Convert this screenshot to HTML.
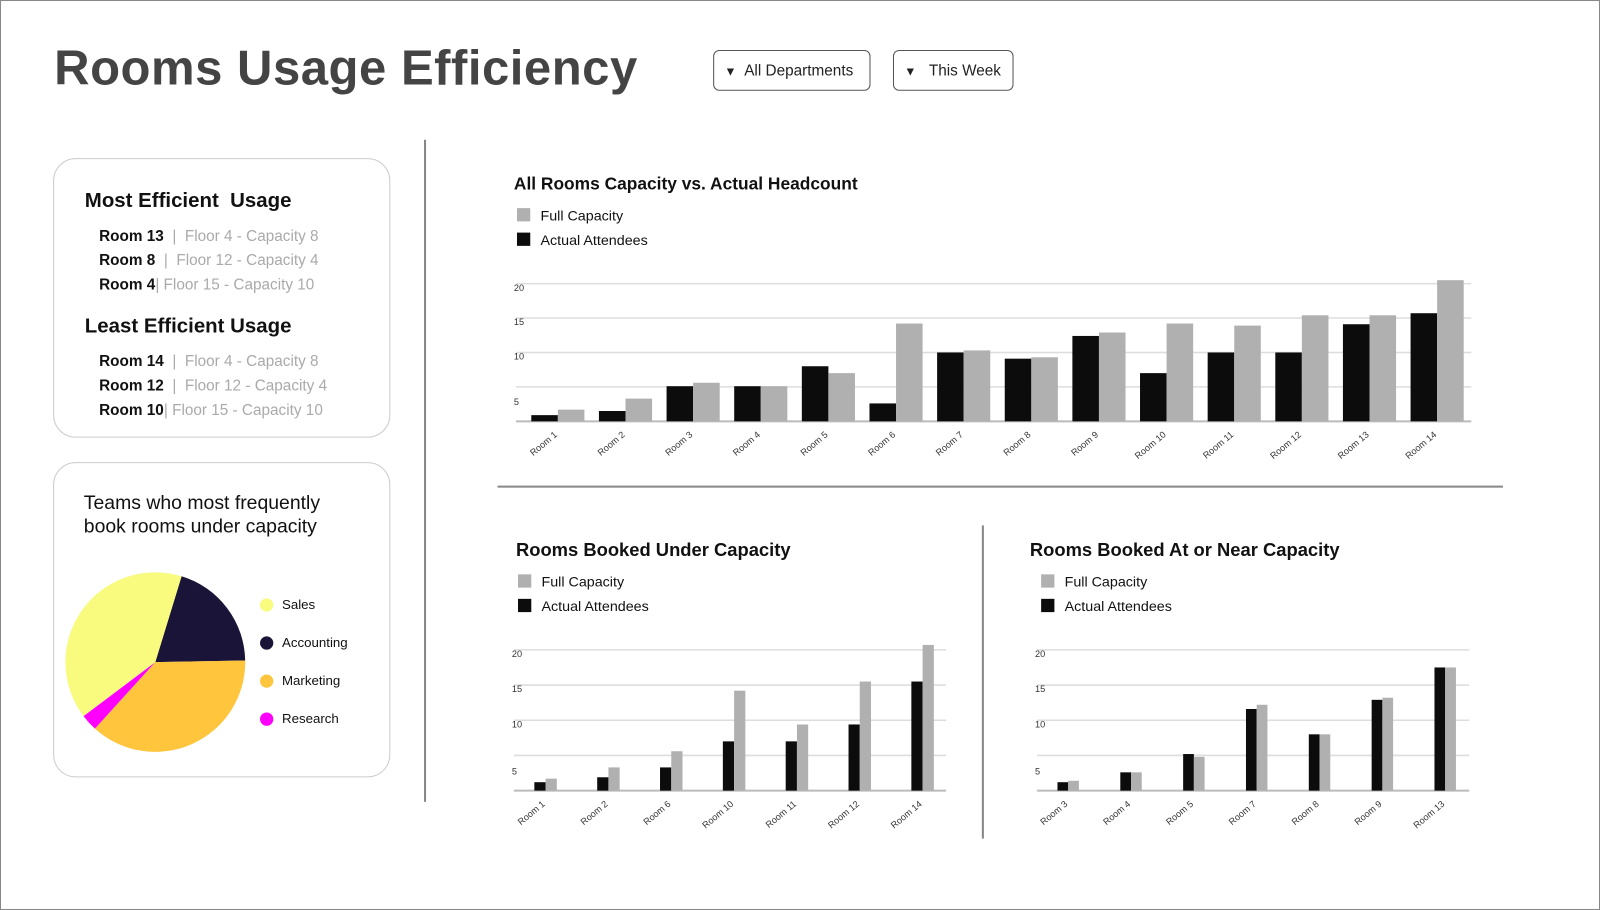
<!DOCTYPE html>
<html><head><meta charset="utf-8">
<style>
html,body{margin:0;padding:0;background:#fff;overflow:hidden;}
body{width:1600px;height:910px;}
#root{position:absolute;left:0;top:0;width:1566px;height:892px;transform-origin:0 0;transform:scale(1.02171,1.02018);font-family:"Liberation Sans",sans-serif;}
.frame{position:absolute;left:0;top:0;width:1564px;height:890px;border:1px solid #888;}
.abs{position:absolute;}
.title{left:53px;top:40px;font-size:48px;font-weight:bold;color:#444;letter-spacing:0.5px;}
.dd{height:40px;border:1.5px solid #555;border-radius:6px;font-size:15px;color:#222;line-height:40px;box-sizing:border-box;}
.card{border:1.5px solid #ccc;border-radius:22px;box-sizing:border-box;}
.h{font-size:20px;color:#111;font-weight:bold;}
.row{font-size:15px;color:#aaa;}
.row b{color:#111;}
</style></head><body>
<div id="root">
<div class="frame"></div>
<div class="abs title">Rooms Usage Efficiency</div>
<div class="abs dd" style="left:698px;top:49px;width:154px;"><span style="margin-left:10px;font-size:12px;">&#9660;</span>&nbsp; All Departments</div>
<div class="abs dd" style="left:874px;top:49px;width:118px;"><span style="margin-left:10px;font-size:12px;">&#9660;</span>&nbsp;&nbsp; This Week</div>

<div class="abs" style="left:415px;top:137px;width:1.5px;height:649px;background:#888;"></div>
<div class="abs" style="left:487px;top:476px;width:984px;height:1.5px;background:#888;"></div>
<div class="abs" style="left:961px;top:515px;width:1.5px;height:307px;background:#888;"></div>

<div class="abs card" style="left:52px;top:155px;width:330px;height:274px;">
  <div class="abs h" style="left:30px;top:30px;">Most Efficient&nbsp; Usage</div>
  <div class="abs row" style="left:44px;top:67px;"><b>Room 13</b> &nbsp;|&nbsp; Floor 4 - Capacity 8</div>
  <div class="abs row" style="left:44px;top:91px;"><b>Room 8</b> &nbsp;|&nbsp; Floor 12 - Capacity 4</div>
  <div class="abs row" style="left:44px;top:115px;"><b>Room 4</b>| Floor 15 - Capacity 10</div>
  <div class="abs h" style="left:30px;top:153px;">Least Efficient Usage</div>
  <div class="abs row" style="left:44px;top:190px;"><b>Room 14</b> &nbsp;|&nbsp; Floor 4 - Capacity 8</div>
  <div class="abs row" style="left:44px;top:214px;"><b>Room 12</b> &nbsp;|&nbsp; Floor 12 - Capacity 4</div>
  <div class="abs row" style="left:44px;top:238px;"><b>Room 10</b>| Floor 15 - Capacity 10</div>
</div>

<div class="abs card" style="left:52px;top:453px;width:330px;height:309px;">
  <div class="abs" style="left:29px;top:28px;font-size:19px;color:#111;line-height:23px;">Teams who most frequently<br>book rooms under capacity</div>
</div>

<svg class="abs" style="left:0;top:0" width="1566" height="892" id="svg"></svg>
</div>
<script>
// Main chart
const mainRooms = ["Room 1","Room 2","Room 3","Room 4","Room 5","Room 6","Room 7","Room 8","Room 9","Room 10","Room 11","Room 12","Room 13","Room 14"];
const mainActual = [0.9,1.5,5.1,5.1,8.0,2.6,10.0,9.1,12.4,7.0,10.0,10.0,14.1,15.7];
const mainCapacity = [1.7,3.3,5.6,5.1,7.0,14.2,10.3,9.3,12.9,14.2,13.9,15.4,15.4,20.5];
// Under capacity chart
const underRooms = ["Room 1","Room 2","Room 6","Room 10","Room 11","Room 12","Room 14"];
const underActual = [1.2,1.9,3.3,7.0,7.0,9.4,15.5];
const underCapacity = [1.7,3.3,5.6,14.2,9.4,15.5,20.7];
// Near capacity chart
const nearRooms = ["Room 3","Room 4","Room 5","Room 7","Room 8","Room 9","Room 13"];
const nearActual = [1.2,2.6,5.2,11.6,8.0,12.9,17.5];
const nearCapacity = [1.4,2.6,4.8,12.2,8.0,13.2,17.5];
const tickValues = [0,5,10,15,20];
const tickLabels = ["","5","10","15","20"];
// Pie
const pieLabels = ["Accounting","Marketing","Research","Sales"];
const pieValues = [20,37,3,40];
const pieLegend = ["Sales","Accounting","Marketing","Research"];

const NS="http://www.w3.org/2000/svg";
const svg=document.getElementById('svg');
function mk(tag,attrs,parent){const e=document.createElementNS(NS,tag);for(const k in attrs)e.setAttribute(k,attrs[k]);(parent||svg).appendChild(e);return e;}

function chart(cfg){
  const g=mk('g',{});
  
  
  const t=mk('text',{x:cfg.tx,y:cfg.ty,'font-size':cfg.tfs,'font-weight':'bold','fill':'#111','font-family':'Liberation Sans, sans-serif'},g);
  t.textContent=cfg.title;
  
  
  [["Full Capacity","#b0b0b0",0],["Actual Attendees","#0c0c0c",1]].forEach(([lab,col,i])=>{
    const r=mk('rect',{x:cfg.lx,y:cfg.ty+18+i*24,width:13,height:13,fill:col},g);
    
    
    const lt=mk('text',{x:cfg.lx+23,y:cfg.ty+30+i*24,'font-size':14,fill:'#111','font-family':'Liberation Sans, sans-serif'},g);
    lt.textContent=lab;
    
    
  });
  const y=v=>cfg.base-(v/20)*(cfg.base-cfg.top);
  tickValues.forEach((v,i)=>{
    const gl=mk('line',{x1:cfg.x0,x2:cfg.x1,y1:y(v),y2:y(v),stroke:i===0?'#bbb':'#ddd','stroke-width':i===0?2:1.5},g);
    
    
    if(tickLabels[i]){
      const tl=mk('text',{x:cfg.x0-2,y:(v===5?cfg.base-16:y(v)+7),'font-size':9,fill:'#333','font-family':'Liberation Sans, sans-serif'},g);
      tl.textContent=tickLabels[i];
      
      
    }
  });
  cfg.cats.forEach((c,i)=>{
    const gx=cfg.first+i*cfg.step;
    const b=mk('rect',{x:gx,y:y(cfg.actual[i]),width:cfg.bw,height:cfg.base-y(cfg.actual[i]),fill:'#0c0c0c'},g);
    
    
    const b2=mk('rect',{x:gx+cfg.bw,y:y(cfg.cap[i]),width:cfg.bw,height:cfg.base-y(cfg.cap[i]),fill:'#b0b0b0'},g);
    
    
    const cx=gx+cfg.bw, cy=cfg.base+14;
    const xl=mk('text',{x:cx,y:cy,'font-size':9,fill:'#333','text-anchor':'end','font-family':'Liberation Sans, sans-serif',transform:`rotate(-40 ${cx} ${cy})`},g);
    xl.textContent=c;
    
    
  });
}
chart({name:'all-rooms-chart',title:'All Rooms Capacity vs. Actual Headcount',tx:503,ty:186,tfs:17,lx:506,x0:505,x1:1440,base:413,top:278,first:520,step:66.2,bw:26,cats:mainRooms,actual:mainActual,cap:mainCapacity});
chart({name:'under-capacity-chart',title:'Rooms Booked Under Capacity',tx:505,ty:545,tfs:18,lx:507,x0:503,x1:926,base:775,top:637,first:523,step:61.5,bw:11,cats:underRooms,actual:underActual,cap:underCapacity});
chart({name:'near-capacity-chart',title:'Rooms Booked At or Near Capacity',tx:1008,ty:545,tfs:18,lx:1019,x0:1015,x1:1438,base:775,top:637,first:1035,step:61.5,bw:10.5,cats:nearRooms,actual:nearActual,cap:nearCapacity});

// pie
const colors={Sales:'#f9fb7f',Accounting:'#1a1438',Marketing:'#ffc53d',Research:'#ff00ff'};
const cx=152,cy=649,R=88;
const total=pieValues.reduce((a,b)=>a+b,0);
let ang=17*Math.PI/180;
pieLabels.forEach((l,i)=>{
  const a2=ang+pieValues[i]/total*2*Math.PI;
  const p=(a)=>[cx+R*Math.sin(a),cy-R*Math.cos(a)];
  const [x1,y1]=p(ang),[x2,y2]=p(a2);
  const large=(a2-ang)>Math.PI?1:0;
  const s=mk('path',{d:`M${cx},${cy} L${x1},${y1} A${R},${R} 0 ${large} 1 ${x2},${y2} Z`,fill:colors[l]});
  
  
  ang=a2;
});
pieLegend.forEach((l,i)=>{
  const c=mk('circle',{cx:261,cy:593+i*37.3,r:6.5,fill:colors[l]});
  
  
  const t=mk('text',{x:276,y:597+i*37.3,'font-size':13,fill:'#111','font-family':'Liberation Sans, sans-serif'});
  t.textContent=l;
  
  
});
</script>
</body></html>
